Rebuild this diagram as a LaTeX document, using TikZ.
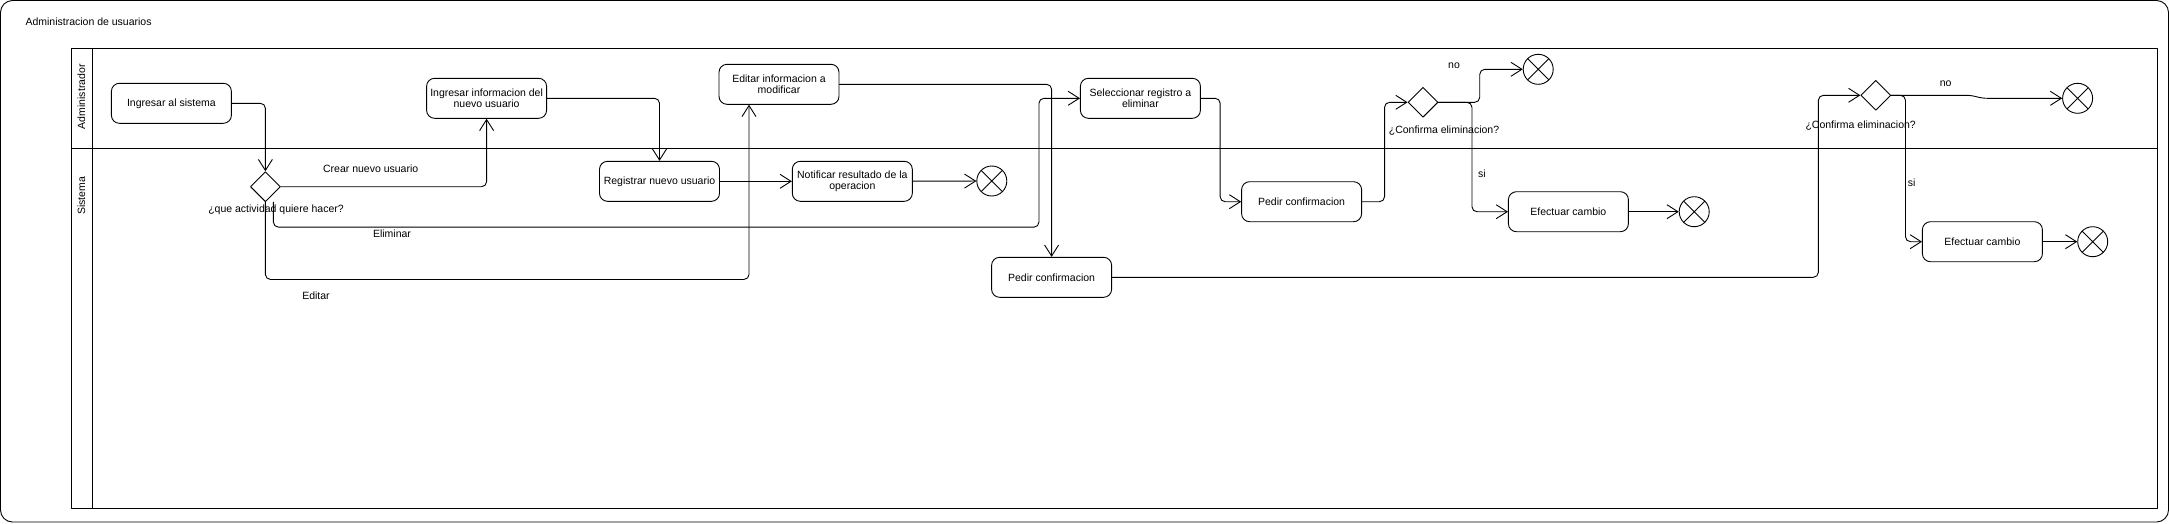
\documentclass[tikz,border=0pt]{standalone}
\usepackage{fontspec}
\setmainfont{Liberation Sans}
\usetikzlibrary{shapes.geometric,arrows.meta}
\begin{document}
\begin{tikzpicture}[x=1pt,y=-1pt,line join=round,line cap=round,
	>={Straight Barb[length=11pt,width=14pt]},
	every node/.style={font=\fontsize{10.5}{11}\selectfont},
	accion/.style={draw,rounded corners=8pt,minimum width=120pt,minimum height=40pt,align=center,inner sep=1pt,line width=.9pt},
	decision/.style={draw,diamond,minimum size=30pt,inner sep=0pt,line width=.9pt},
	fin/.style={draw,circle,minimum size=30pt,inner sep=0pt,line width=.9pt,
		path picture={\draw[line width=.9pt] (path picture bounding box.north west)--(path picture bounding box.south east)
			(path picture bounding box.north east)--(path picture bounding box.south west);}},
	flujo/.style={->,line width=.9pt,rounded corners=5pt}]
	\useasboundingbox (0,0) rectangle (2169,523);
	%marco y carriles
	\draw[line width=.9pt,rounded corners=12pt] (.5,.5) rectangle (2168.5,522);
	\node[anchor=west] (titulo) at (22,21.7) {Administracion de usuarios};
	\draw[line width=.9pt] (71.4,48.3) rectangle (2157.5,508.3) (92.1,48.3)--(92.1,508.3) (71.4,148.3)--(2157.5,148.3);
	\node[rotate=90] (admin) at (81.4,96.7) {Administrador};
	\node[rotate=90] (sistema) at (81.4,196) {Sistema};
	%acciones
	\node[accion] (ingresar) at (171.4,103.3) {Ingresar al sistema};
	\node[accion] (info) at (486.6,98.3) {Ingresar informacion del\\nuevo usuario};
	\node[accion] (registrar) at (659.5,181.3) {Registrar nuevo usuario};
	\node[accion] (notificar) at (852.3,181.3) {Notificar resultado de la\\operacion};
	\node[accion] (editar) at (779,84.3) {Editar informacion a\\modificar};
	\node[accion] (pedir1) at (1051.6,277.3) {Pedir confirmacion};
	\node[accion] (selec) at (1140.4,98.3) {Seleccionar registro a\\eliminar};
	\node[accion] (pedir2) at (1301.6,201.7) {Pedir confirmacion};
	\node[accion] (efect1) at (1568.4,211.7) {Efectuar cambio};
	\node[accion] (efect2) at (1982.4,241.7) {Efectuar cambio};
	%decisiones
	\node[decision] (dec1) at (265.4,186.7) {};
	\node[decision] (dec2) at (1423,102.3) {};
	\node[decision] (dec3) at (1875.8,95.3) {};
	\foreach \n/\p in {fin1/{991.8,181},fin2/{1538.2,69.3},fin3/{1694.2,211.7},fin4/{2077.6,98.3},fin5/{2092.7,241.7}}
	\node[fin] (\n) at (\p) {};
	%flujos
	\coordinate (elimina) at ([xshift=8pt]dec1.south);
	\draw[flujo] (ingresar.east) -| (dec1.north);
	\draw[flujo] (dec1.east) -| (info.south);
	\draw[flujo] (elimina) -- ++(0,25) -| ([xshift=-41pt]selec.west) -- (selec.west);
	\draw[flujo] (dec1.south) -- ++(0,77.3) -| ([xshift=-30pt]editar.south);
	\draw[flujo] (info.east) -| (registrar.north);
	\draw[flujo] (registrar) -- (notificar);
	\draw[flujo] (notificar) -- (fin1);
	\draw[flujo] (editar.east) -| (pedir1.north);
	\draw[flujo] (selec.east) -| ([xshift=-21pt]pedir2.west) -- (pedir2.west);
	\draw[flujo] (pedir2.east) -| ([xshift=-23pt]dec2.west) -- (dec2.west);
	\draw[flujo] (dec2.east) -| ([xshift=-43pt]fin2.west) -- (fin2.west);
	\draw[flujo] (dec2.east) -| ([xshift=-36pt]efect1.west) -- (efect1.west);
	\draw[flujo] (efect1) -- (fin3);
	\draw[flujo] (pedir1.east) -| ([xshift=-42pt]dec3.west) -- (dec3.west);
	\draw[flujo] (dec3.east) -- ++(80,0) -- ([xshift=-80pt]fin4.west) -- (fin4.west);
	\draw[flujo] (dec3.east) -| ([xshift=-16.5pt]efect2.west) -- (efect2.west);
	\draw[flujo] (efect2) -- (fin5);
	%etiquetas
	\node (pregunta) at (276,210) {¿que actividad quiere hacer?};
	\node (crear) at (370.7,168.3) {Crear nuevo usuario};
	\node (eliminar) at (392,233.3) {Eliminar};
	\node (editarlbl) at (316,295.7) {Editar};
	\node (conf1) at (1444,130.7) {¿Confirma eliminacion?};
	\node (conf2) at (1860.7,126) {¿Confirma eliminacion?};
	\node (no1) at (1454,66) {no};
	\node (no2) at (1945.6,83.3) {no};
	\node (si1) at (1481.8,174) {si};
	\node (si2) at (1911.7,182.7) {si};
\end{tikzpicture}
\end{document}
